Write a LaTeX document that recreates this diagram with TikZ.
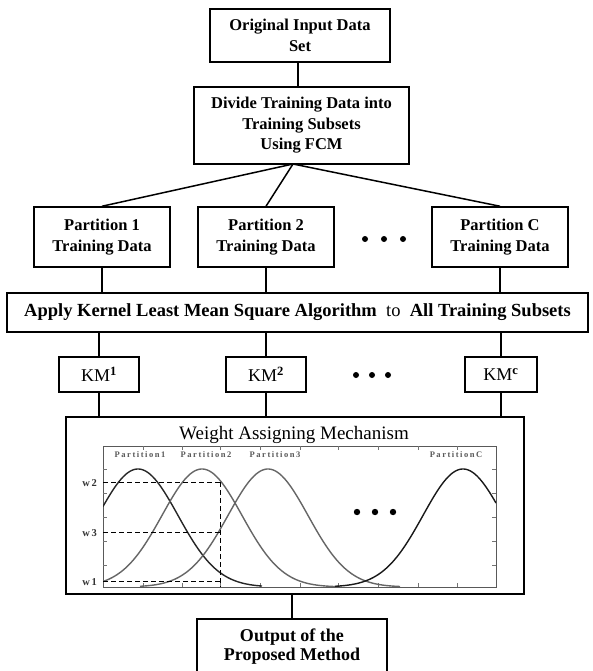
\documentclass[tikz,border=0pt]{standalone}
\usepackage{fontspec}
\setmainfont{Liberation Serif}
\begin{document}
\begin{tikzpicture}[x=1pt,y=-1pt,
  box/.style={draw=black, line width=1.5pt, rectangle, inner sep=0pt, align=center, font=\fontsize{16.5}{20.5}\selectfont\bfseries},
  conn/.style={draw=black, line width=1.5pt},
  axisline/.style={draw=black!65, line width=0.9pt},
  tick/.style={draw=black!55, line width=0.6pt},
  gcurve/.style={line width=1.4pt, samples=120},
  plab/.style={font=\fontsize{8.5}{9}\selectfont\bfseries\addfontfeature{LetterSpace=18}, text=black!65, inner sep=0pt},
  wlab/.style={font=\fontsize{10.5}{11}\selectfont\bfseries\addfontfeature{LetterSpace=15}, text=black!80, inner sep=0pt, anchor=east},
  dot/.style={fill=black, draw=none}
]
\useasboundingbox (0,0) rectangle (592,671);
\fill[white] (0,0) rectangle (592,671);

% boxes
\node[box, minimum width=180, minimum height=53] (orig) at (300,35.5) {Original Input Data\\Set};
\node[box, minimum width=215, minimum height=77] (div) at (301.5,125.5) {Divide Training Data into\\Training Subsets\\Using FCM};
\node[box, minimum width=136, minimum height=60] (p1) at (102,237) {Partition 1\\Training Data};
\node[box, minimum width=136, minimum height=60] (p2) at (266,237) {Partition 2\\Training Data};
\node[box, minimum width=136, minimum height=60] (pc) at (500,237) {Partition C\\Training Data};
\node[box, minimum width=581, minimum height=39, font=\fontsize{18.5}{20}\selectfont\bfseries] (apply) at (297.5,312.5) {Apply Kernel Least Mean Square Algorithm\ \ \textmd{to}\ \ All Training Subsets};
\node[box, minimum width=80, minimum height=35, font=\fontsize{18}{18}\selectfont] (km1) at (99,374.5) {KM\textsuperscript{\bfseries 1}};
\node[box, minimum width=80, minimum height=35, font=\fontsize{18}{18}\selectfont] (km2) at (266,374.5) {KM\textsuperscript{\bfseries 2}};
\node[box, minimum width=72, minimum height=35, font=\fontsize{18}{18}\selectfont] (kmc) at (501,374.5) {KM\textsuperscript{\bfseries c}};
\node[box, minimum width=458, minimum height=177] (wbox) at (295,505.5) {};
\node[box, minimum width=190, minimum height=72] (out) at (292,655) {};
\node[font=\fontsize{18}{19}\selectfont\bfseries, align=center, inner sep=0pt] (outtxt) at (292,647) {Output of the\\Proposed Method};

% connectors
\draw[conn] (orig.south -| 298,0) -- (div.north -| 298,0);
\coordinate (fan) at (293,164);
\draw[conn] (fan) -- (p1.north);
\draw[conn] (fan) -- (p2.north);
\draw[conn] (fan) -- (pc.north);
\foreach \n in {p1,p2,pc}{\draw[conn] (\n.south) -- (\n.south |- apply.north);}
\foreach \n in {km1,km2,kmc}{\draw[conn] (\n.north |- apply.south) -- (\n.north);
  \draw[conn] (\n.south) -- (\n.south |- wbox.north);}
\draw[conn] (out.north) -- (out.north |- wbox.south);

% dots between boxes
\foreach \xx in {365,384,403}{\fill[dot] (\xx,239) circle (3);}
\foreach \xx in {356,372,388}{\fill[dot] (\xx,375) circle (3);}

% weight assigning mechanism
\node[font=\fontsize{19}{20}\selectfont, inner sep=0pt] (wtitle) at (294,435) {Weight Assigning Mechanism};
\draw[axisline] (103,446) rectangle (496,587);
\foreach \xx in {143,182,220,260,300,338,378,418,457}{
  \draw[tick] (\xx,446) -- (\xx,450);
  \draw[tick] (\xx,587) -- (\xx,583);}
\foreach \yy in {469,493,517,541,565}{
  \draw[tick] (103,\yy) -- (107,\yy);
  \draw[tick] (496,\yy) -- (492,\yy);}
\begin{scope}
\clip (103,446) rectangle (496,587);
\draw[gcurve, black!85, domain=103:262] plot (\x, {587-118*exp(-0.5*((\x-138)/40)^2)});
\draw[gcurve, black!60, domain=103:340] plot (\x, {587-118*exp(-0.5*((\x-202)/40)^2)});
\draw[gcurve, black!60, domain=140:400] plot (\x, {587-118*exp(-0.5*((\x-268)/40)^2)});
\draw[gcurve, black!90, domain=335:496] plot (\x, {587-118*exp(-0.5*((\x-463)/40)^2)});
\end{scope}
\draw[black, line width=1pt, dash pattern=on 5pt off 3pt] (103,482) -- (220,482);
\draw[black, line width=1pt, dash pattern=on 5pt off 3pt] (103,532) -- (220,532);
\draw[black, line width=1pt, dash pattern=on 5pt off 3pt] (103,581) -- (220,581);
\draw[black, line width=1pt, dash pattern=on 5pt off 3pt] (220,482) -- (220,587);
\node[wlab] (w2) at (97,483) {w2};
\node[wlab] (w3) at (97,533) {w3};
\node[wlab] (w1) at (97,582) {w1};
\node[plab] (l1) at (140,455) {Partition1};
\node[plab] (l2) at (206,455) {Partition2};
\node[plab] (l3) at (275,455) {Partition3};
\node[plab] (lc) at (456,455) {PartitionC};
\foreach \xx in {357,375,393}{\fill[dot] (\xx,512) circle (3.2);}
\end{tikzpicture}
\end{document}
